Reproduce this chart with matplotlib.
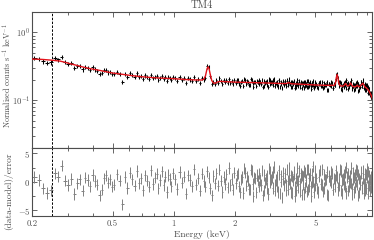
import numpy as np
import matplotlib
matplotlib.use('Agg')
import matplotlib.pyplot as plt
from matplotlib.ticker import NullFormatter, AutoMinorLocator

# Spectrum bins (keV), one line per energy band
energy = [
    0.205, 0.216, 0.227, 0.237, 0.248, 0.259, 0.269, 0.280, 0.291, 0.301, 0.312, 0.323, 0.334, 0.344,
    0.355, 0.366, 0.376, 0.387, 0.398, 0.409, 0.420, 0.431, 0.442, 0.453, 0.464, 0.475, 0.486, 0.497,
    0.508, 0.525, 0.541, 0.558, 0.575, 0.591, 0.608, 0.625, 0.641, 0.658, 0.675, 0.691, 0.708, 0.725, 0.741,
    0.758, 0.775, 0.791, 0.808, 0.825, 0.841, 0.858, 0.875, 0.891, 0.908, 0.925, 0.941, 0.958, 0.975, 0.991,
    1.014, 1.042, 1.069, 1.097, 1.125, 1.153, 1.181, 1.208, 1.236, 1.264, 1.292, 1.319, 1.347, 1.375, 1.403,
    1.431, 1.458, 1.486, 1.514, 1.542, 1.569, 1.597, 1.625, 1.653, 1.681, 1.708, 1.736, 1.764, 1.792, 1.819,
    1.847, 1.875, 1.903, 1.931, 1.958, 1.986,
    2.025, 2.075, 2.125, 2.175, 2.225, 2.275, 2.325, 2.375, 2.425, 2.475,
    2.525, 2.575, 2.625, 2.675, 2.725, 2.775, 2.825, 2.875, 2.925, 2.975,
    3.025, 3.075, 3.125, 3.175, 3.225, 3.275, 3.325, 3.375, 3.425, 3.475,
    3.525, 3.575, 3.625, 3.675, 3.725, 3.775, 3.825, 3.875, 3.925, 3.975,
    4.025, 4.075, 4.125, 4.175, 4.225, 4.275, 4.325, 4.375, 4.425, 4.475,
    4.525, 4.575, 4.625, 4.675, 4.725, 4.775, 4.825, 4.875, 4.925, 4.975,
    5.045, 5.135, 5.225, 5.315, 5.405, 5.495, 5.585, 5.675, 5.765, 5.855,
    5.945, 6.035, 6.125, 6.215, 6.305, 6.395, 6.485, 6.575, 6.665, 6.755,
    6.845, 6.935, 7.025, 7.115, 7.205, 7.295, 7.385, 7.475, 7.565, 7.655,
    7.745, 7.835, 7.925, 8.015, 8.105, 8.195, 8.285, 8.375, 8.465, 8.555,
    8.645, 8.735, 8.825, 8.915, 9.005, 9.095, 9.185, 9.275, 9.365, 9.455, 9.525,
]

flux = [
    0.420, 0.408, 0.374, 0.355, 0.361, 0.416, 0.399, 0.440, 0.366, 0.341, 0.351, 0.297, 0.321, 0.324,
    0.285, 0.314, 0.302, 0.281, 0.305, 0.285, 0.273, 0.243, 0.253, 0.276, 0.279, 0.257, 0.261, 0.242,
    0.244, 0.263, 0.246, 0.185, 0.248, 0.223, 0.252, 0.236, 0.221, 0.249, 0.222, 0.230, 0.204, 0.232, 0.221,
    0.208, 0.239, 0.212, 0.223, 0.229, 0.200, 0.215, 0.231, 0.205, 0.220, 0.191, 0.223, 0.214, 0.201, 0.224,
    0.211, 0.193, 0.222, 0.202, 0.212, 0.181, 0.212, 0.203, 0.192, 0.221, 0.194, 0.204, 0.182, 0.213, 0.203,
    0.215, 0.316, 0.311, 0.226, 0.172, 0.189, 0.175, 0.196, 0.180, 0.210, 0.192, 0.172, 0.197, 0.184, 0.200,
    0.178, 0.209, 0.180, 0.191, 0.172, 0.200,
    0.182, 0.199, 0.165, 0.192, 0.207, 0.176, 0.185, 0.169, 0.201, 0.156,
    0.188, 0.194, 0.172, 0.184, 0.201, 0.164, 0.178, 0.190, 0.158, 0.196,
    0.183, 0.168, 0.203, 0.173, 0.187, 0.160, 0.190, 0.177, 0.150, 0.191,
    0.183, 0.170, 0.198, 0.168, 0.186, 0.187, 0.156, 0.177, 0.191, 0.165,
    0.160, 0.196, 0.174, 0.169, 0.186, 0.150, 0.180, 0.189, 0.162, 0.174,
    0.155, 0.190, 0.176, 0.163, 0.180, 0.146, 0.182, 0.168, 0.157, 0.186,
    0.174, 0.150, 0.180, 0.163, 0.189, 0.156, 0.169, 0.183, 0.142, 0.175,
    0.163, 0.180, 0.152, 0.170, 0.207, 0.246, 0.187, 0.164, 0.182, 0.142,
    0.167, 0.178, 0.168, 0.196, 0.146, 0.164, 0.182, 0.177, 0.146, 0.175,
    0.166, 0.149, 0.180, 0.161, 0.175, 0.140, 0.162, 0.183, 0.163, 0.184,
    0.150, 0.173, 0.155, 0.141, 0.168, 0.137, 0.147, 0.119, 0.130, 0.113, 0.116,
]

resid = [
    0.8, 0.3, -1.2, -2.0, -1.5, 1.5, 0.9, 2.8, 0.2, -0.6, 0.5, -2.2, -0.3, 0.4,
    -1.6, 0.7, 0.3, -0.8, 1.2, 0.1, -0.5, -2.4, -1.4, 0.6, 1.1, -0.2, 0.4, -0.9,
    -0.5, 1.3, 0.2, -4.0, 0.8, -1.1, 1.6, 0.4, -0.7, 1.9, -0.3, 0.6, -1.5, 1.1, 0.2,
    -0.9, 2.0, -0.4, 0.7, 1.4, -1.2, 0.3, 1.8, -0.6, 0.9, -1.8, 1.2, 0.5, -0.8, 1.5,
    0.4, -1.3, 1.7, -0.2, 0.9, -2.1, 1.1, 0.3, -0.8, 2.2, -0.5, 0.6, -1.6, 1.4, 0.1,
    -0.9, 1.8, 0.7, -1.2, -2.4, 1.0, -0.3, 1.5, -0.7, 2.1, 0.2, -1.8, 0.8, -0.4, 1.3,
    -1.0, 2.4, -0.6, 0.5, -1.4, 1.6,
    -0.3, 1.4, -1.9, 0.8, 2.3, -0.7, 0.2, -1.4, 1.9, -2.6,
    0.6, 1.2, -0.9, 0.3, 2.0, -1.6, -0.2, 1.0, -2.2, 1.7,
    0.4, -1.1, 2.6, -0.5, 0.9, -1.8, 1.3, 0.0, -2.8, 1.6,
    0.7, -0.6, 2.2, -1.3, 0.5, 1.1, -2.0, 0.2, 1.8, -0.9,
    -1.5, 2.4, 0.1, -0.4, 1.5, -2.3, 0.8, 1.9, -1.0, 0.3,
    -1.7, 2.1, 0.6, -0.8, 1.2, -2.5, 1.4, 0.0, -1.2, 2.0,
    0.6, -1.8, 1.3, -0.4, 2.2, -1.1, 0.3, 1.7, -2.4, 0.9,
    -0.2, 1.5, -1.3, 0.4, 2.0, 0.8, -1.5, -0.6, 1.9, -2.1,
    0.5, 1.2, -0.8, 2.5, -1.6, 0.1, 1.0, -0.3, -2.2, 1.6,
    0.7, -1.0, 2.1, -0.5, 1.3, -1.9, 0.2, 1.8, -0.9, 0.6,
    -2.0, 1.4, 0.0, -1.2, 2.3, -0.7, 1.1, -1.5, 0.8, -0.4, 1.0,
]

# extra bins above 2 keV, lying between the ones above
energy_fine = [
    2.05, 2.10, 2.15, 2.20, 2.25, 2.30, 2.35, 2.40, 2.45, 2.50,
    2.55, 2.60, 2.65, 2.70, 2.75, 2.80, 2.85, 2.90, 2.95, 3.00,
    3.05, 3.10, 3.15, 3.20, 3.25, 3.30, 3.35, 3.40, 3.45, 3.50,
    3.55, 3.60, 3.65, 3.70, 3.75, 3.80, 3.85, 3.90, 3.95, 4.00,
    4.05, 4.10, 4.15, 4.20, 4.25, 4.30, 4.35, 4.40, 4.45, 4.50,
    4.55, 4.60, 4.65, 4.70, 4.75, 4.80, 4.85, 4.90, 4.95, 5.00,
    5.09, 5.18, 5.27, 5.36, 5.45, 5.54, 5.63, 5.72, 5.81, 5.90,
    5.99, 6.08, 6.17, 6.26, 6.35, 6.44, 6.53, 6.62, 6.71, 6.80,
    6.89, 6.98, 7.07, 7.16, 7.25, 7.34, 7.43, 7.52, 7.61, 7.70,
    7.79, 7.88, 7.97, 8.06, 8.15, 8.24, 8.33, 8.42, 8.51, 8.60,
    8.69, 8.78, 8.87, 8.96, 9.05, 9.14, 9.23, 9.32, 9.41, 9.50,
]
flux_fine = [
    0.196, 0.177, 0.188, 0.164, 0.200, 0.192, 0.170, 0.204, 0.178, 0.189,
    0.163, 0.184, 0.196, 0.175, 0.157, 0.192, 0.185, 0.169, 0.203, 0.177,
    0.187, 0.196, 0.162, 0.181, 0.169, 0.198, 0.157, 0.187, 0.181, 0.169,
    0.190, 0.162, 0.180, 0.207, 0.175, 0.158, 0.184, 0.188, 0.150, 0.180,
    0.176, 0.163, 0.191, 0.157, 0.179, 0.182, 0.167, 0.150, 0.186, 0.171,
    0.192, 0.157, 0.175, 0.184, 0.161, 0.168, 0.194, 0.150, 0.175, 0.162,
    0.156, 0.177, 0.187, 0.161, 0.150, 0.179, 0.170, 0.143, 0.176, 0.168,
    0.184, 0.152, 0.172, 0.167, 0.235, 0.212, 0.183, 0.187, 0.146, 0.165,
    0.160, 0.188, 0.153, 0.174, 0.177, 0.157, 0.177, 0.197, 0.150, 0.164,
    0.141, 0.170, 0.162, 0.184, 0.137, 0.165, 0.158, 0.183, 0.163, 0.197,
    0.163, 0.143, 0.166, 0.156, 0.128, 0.155, 0.128, 0.129, 0.112, 0.114,
]
resid_fine = [
    1.1, -0.8, 0.4, -2.0, 1.6, 0.9, -1.3, 2.1, -0.4, 0.7,
    -1.9, 0.2, 1.5, -0.6, -2.4, 1.2, 0.5, -1.1, 2.3, -0.2,
    0.8, 1.7, -1.6, 0.3, -0.9, 2.0, -2.1, 1.0, 0.4, -0.7,
    1.4, -1.5, 0.1, 2.4, -0.3, -1.8, 0.9, 1.3, -2.5, 0.6,
    0.2, -1.0, 1.9, -1.7, 0.7, 1.1, -0.5, -2.2, 1.6, 0.0,
    2.2, -1.4, 0.5, 1.5, -0.9, -0.1, 2.7, -1.9, 0.8, -0.6,
    -1.2, 0.9, 2.0, -0.6, -1.7, 1.3, 0.4, -2.3, 1.0, 0.2,
    1.8, -1.4, 0.6, -0.8, 1.1, -1.0, 0.5, 2.2, -1.6, 0.3,
    -0.4, 1.7, -2.0, 0.8, 1.4, -0.9, -0.1, 2.4, -1.3, 0.5,
    -1.8, 1.2, 0.0, 1.9, -2.4, 0.6, -0.5, 1.5, -1.1, 2.0,
    -0.3, -1.6, 1.3, 0.7, -2.1, 1.8, -0.6, 0.4, -1.0, 0.9,
]

# best-fit model curve
model_e = [
    0.200, 0.225, 0.250, 0.275, 0.290, 0.310, 0.330, 0.360, 0.390, 0.420,
    0.460, 0.500, 0.560, 0.620, 0.700, 0.800, 0.900, 1.000, 1.150, 1.300,
    1.380, 1.410, 1.435, 1.460, 1.478, 1.495, 1.515, 1.540, 1.570, 1.600,
    1.650, 1.700, 1.800, 2.000, 2.500, 3.000, 3.550, 3.630, 3.690, 3.740,
    3.800, 4.000, 4.500, 5.000, 5.600, 6.200, 6.280, 6.340, 6.400, 6.460,
    6.520, 6.600, 6.700, 6.850, 6.950, 7.030, 7.120, 7.220, 7.330, 7.450,
    7.560, 7.680, 7.850, 7.950, 8.030, 8.120, 8.220, 8.350, 8.470, 8.570,
    8.680, 8.800, 8.950, 9.100, 9.250, 9.400, 9.550,
]
model_f = [
    0.405, 0.400, 0.390, 0.378, 0.364, 0.344, 0.329, 0.307, 0.291, 0.280,
    0.265, 0.252, 0.241, 0.231, 0.222, 0.215, 0.211, 0.208, 0.202, 0.199,
    0.199, 0.205, 0.230, 0.290, 0.312, 0.290, 0.240, 0.196, 0.180, 0.178,
    0.187, 0.190, 0.188, 0.185, 0.182, 0.179, 0.176, 0.178, 0.183, 0.179,
    0.175, 0.174, 0.171, 0.168, 0.166, 0.166, 0.178, 0.215, 0.240, 0.215,
    0.180, 0.166, 0.162, 0.162, 0.167, 0.177, 0.169, 0.162, 0.165, 0.180,
    0.167, 0.159, 0.158, 0.161, 0.167, 0.161, 0.158, 0.164, 0.172, 0.178,
    0.167, 0.156, 0.151, 0.143, 0.132, 0.120, 0.106,
]

ebounds = [0.2, 9.55]
xticks = [0.2, 0.5, 1, 2, 5]
xticklabels = ['0.2', '0.5', '1', '2', '5']
cutoff = 0.25

plt.rcParams['font.family'] = 'serif'
plt.rcParams['font.serif'] = ['cmr10']
plt.rcParams['mathtext.fontset'] = 'cm'
plt.rcParams['axes.unicode_minus'] = False
plt.rcParams['axes.formatter.use_mathtext'] = True

# merge the two bin sets and sort by energy
e = np.array(energy + energy_fine)
f = np.array(flux + flux_fine)
r = np.array(resid + resid_fine)
order = np.argsort(e)
e, f, r = e[order], f[order], r[order]
half = np.gradient(e) / 2

fig = plt.figure(figsize=(3.74, 2.4), dpi=100)
ax1 = fig.add_axes([0.0856, 0.3846, 0.910, 0.5654])
ax2 = fig.add_axes([0.0856, 0.1013, 0.910, 0.2833], sharex=ax1)

ax1.errorbar(e, f, xerr=half, yerr=f * 0.07, fmt='none', ecolor='black', elinewidth=0.75)
ax1.plot(model_e, model_f, color='#e3131b', lw=1.0, zorder=3)
ax2.errorbar(e, r, xerr=half, yerr=1, fmt='none', ecolor='0.5', elinewidth=0.7)

for ax in (ax1, ax2):
    ax.axvline(cutoff, color='black', lw=0.7, ls=(0, (2.5, 1.5)))
    ax.set_xscale('log')
    ax.tick_params(which='both', direction='in', top=True, right=True,
                   labelsize=6.3, colors='0.3', width=0.6, pad=2.5)
    ax.tick_params(axis='y', which='both', pad=1.2)
    ax.tick_params(which='major', length=3.5)
    ax.tick_params(which='minor', length=2)
    for s in ax.spines.values():
        s.set_linewidth(0.8)
        s.set_color('0.3')

ax1.set_yscale('log')
ax1.set_xlim(*ebounds)
ax1.set_ylim(0.02, 2)
ax1.yaxis.set_minor_formatter(NullFormatter())
ax1.tick_params(labelbottom=False)
ax1.set_title('TM4', fontsize=7.5, pad=3, color='0.3')
ax1.set_ylabel('Normalised counts s$^{-1}$ keV$^{-1}$', fontsize=5.8, color='0.3')
ax1.yaxis.set_label_coords(-0.056, 0.53)

ax2.set_ylim(-6, 6)
ax2.set_yticks([-5, 0, 5])
ax2.set_yticklabels([r'$-5$', r'$0$', r'$5$'])
ax2.yaxis.set_minor_locator(AutoMinorLocator(2))
ax2.set_xticks(xticks)
ax2.set_xticklabels(xticklabels)
ax2.xaxis.set_minor_formatter(NullFormatter())
ax2.set_xlabel('Energy (keV)', fontsize=6.8, labelpad=2, color='0.3')
ax2.set_ylabel('(data-model)/error', fontsize=6.8, color='0.3')
ax2.yaxis.set_label_coords(-0.056, 0.36)

fig.savefig('out.png', dpi=100)
